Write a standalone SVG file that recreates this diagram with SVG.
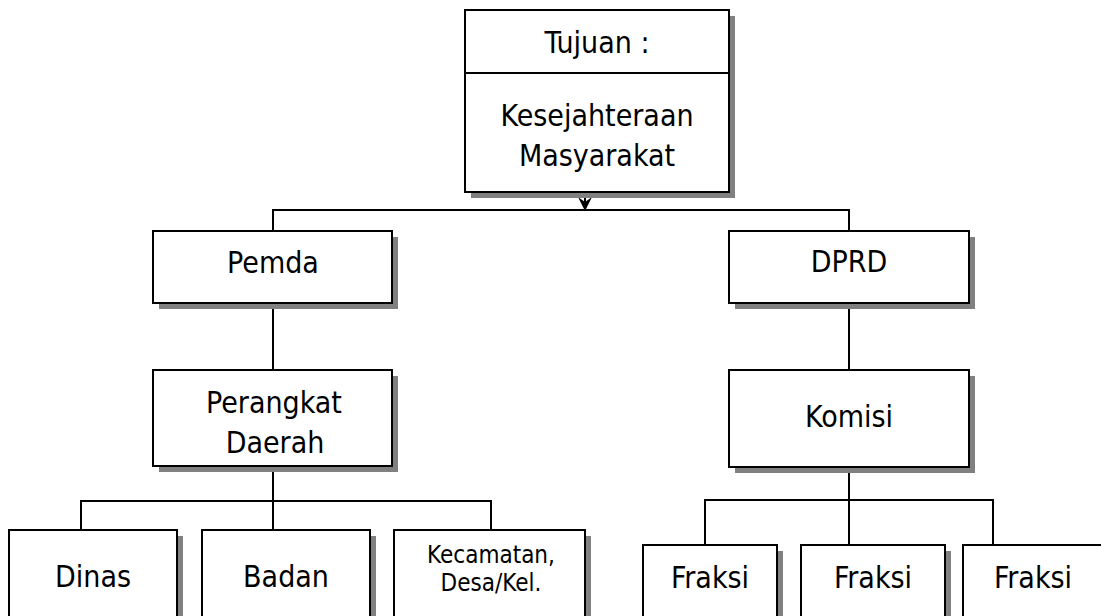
<svg xmlns="http://www.w3.org/2000/svg" width="1101" height="616" viewBox="0 0 1101 616">
<style>
.box{fill:#ffffff;stroke:#000000;stroke-width:2}
.sh{fill:#808080}
.ln{fill:none;stroke:#000000;stroke-width:2}
text{font-family:"DejaVu Sans Condensed","DejaVu Sans",sans-serif;font-stretch:condensed;font-size:30px;fill:#000000;text-anchor:middle}
.sm{font-size:24px}
</style>
<defs>
<marker id="arr" viewBox="0 0 14 14" refX="14" refY="7" markerWidth="14" markerHeight="14" markerUnits="userSpaceOnUse" orient="auto">
<path d="M0,0 L5,7 L0,14 L14,7 Z" fill="#000000"/>
</marker>
</defs>
<rect width="1101" height="616" fill="#ffffff"/>
<g id="connectors">
<line class="ln" x1="585" y1="192" x2="585" y2="211" marker-end="url(#arr)"/>
<polyline class="ln" points="273,231 273,210 849,210 849,231"/>
<line class="ln" x1="273" y1="303" x2="273" y2="370"/>
<line class="ln" x1="849" y1="303" x2="849" y2="370"/>
<line class="ln" x1="273" y1="466" x2="273" y2="530"/>
<polyline class="ln" points="81,530 81,501 491,501 491,530"/>
<line class="ln" x1="849" y1="467" x2="849" y2="545"/>
<polyline class="ln" points="705,545 705,500 993,500 993,545"/>
</g>
<g id="tujuan">
<rect class="sh" x="471" y="16" width="264" height="182"/>
<rect class="box" x="465" y="10" width="264" height="182"/>
<line class="ln" x1="465" y1="73" x2="729" y2="73"/>
<text x="597" y="53">Tujuan :</text>
<text x="597" y="126">Kesejahteraan</text>
<text x="597" y="166">Masyarakat</text>
</g>
<g id="pemda">
<rect class="sh" x="159" y="237" width="239" height="72"/>
<rect class="box" x="153" y="231" width="239" height="72"/>
<text x="273" y="273">Pemda</text>
</g>
<g id="dprd">
<rect class="sh" x="735" y="237" width="240" height="72"/>
<rect class="box" x="729" y="231" width="240" height="72"/>
<text x="849" y="272">DPRD</text>
</g>
<g id="perangkat">
<rect class="sh" x="159" y="376" width="239" height="96"/>
<rect class="box" x="153" y="370" width="239" height="96"/>
<text x="274" y="413">Perangkat</text>
<text x="275" y="453">Daerah</text>
</g>
<g id="komisi">
<rect class="sh" x="735" y="376" width="240" height="97"/>
<rect class="box" x="729" y="370" width="240" height="97"/>
<text x="849" y="427">Komisi</text>
</g>
<g id="dinas">
<rect class="sh" x="15" y="536" width="168" height="100"/>
<rect class="box" x="9" y="530" width="168" height="100"/>
<text x="93" y="587">Dinas</text>
</g>
<g id="badan">
<rect class="sh" x="208" y="536" width="168" height="100"/>
<rect class="box" x="202" y="530" width="168" height="100"/>
<text x="286" y="587">Badan</text>
</g>
<g id="kecamatan">
<rect class="sh" x="400" y="536" width="191" height="100"/>
<rect class="box" x="394" y="530" width="191" height="100"/>
<text class="sm" x="491" y="563">Kecamatan,</text>
<text class="sm" x="491" y="591">Desa/Kel.</text>
</g>
<g id="fraksi1">
<rect class="sh" x="649" y="551" width="134" height="100"/>
<rect class="box" x="643" y="545" width="134" height="100"/>
<text x="710" y="588">Fraksi</text>
</g>
<g id="fraksi2">
<rect class="sh" x="807" y="551" width="144" height="100"/>
<rect class="box" x="801" y="545" width="144" height="100"/>
<text x="873" y="588">Fraksi</text>
</g>
<g id="fraksi3">
<rect class="sh" x="969" y="551" width="140" height="100"/>
<rect class="box" x="963" y="545" width="140" height="100"/>
<text x="1033" y="588">Fraksi</text>
</g>
</svg>
